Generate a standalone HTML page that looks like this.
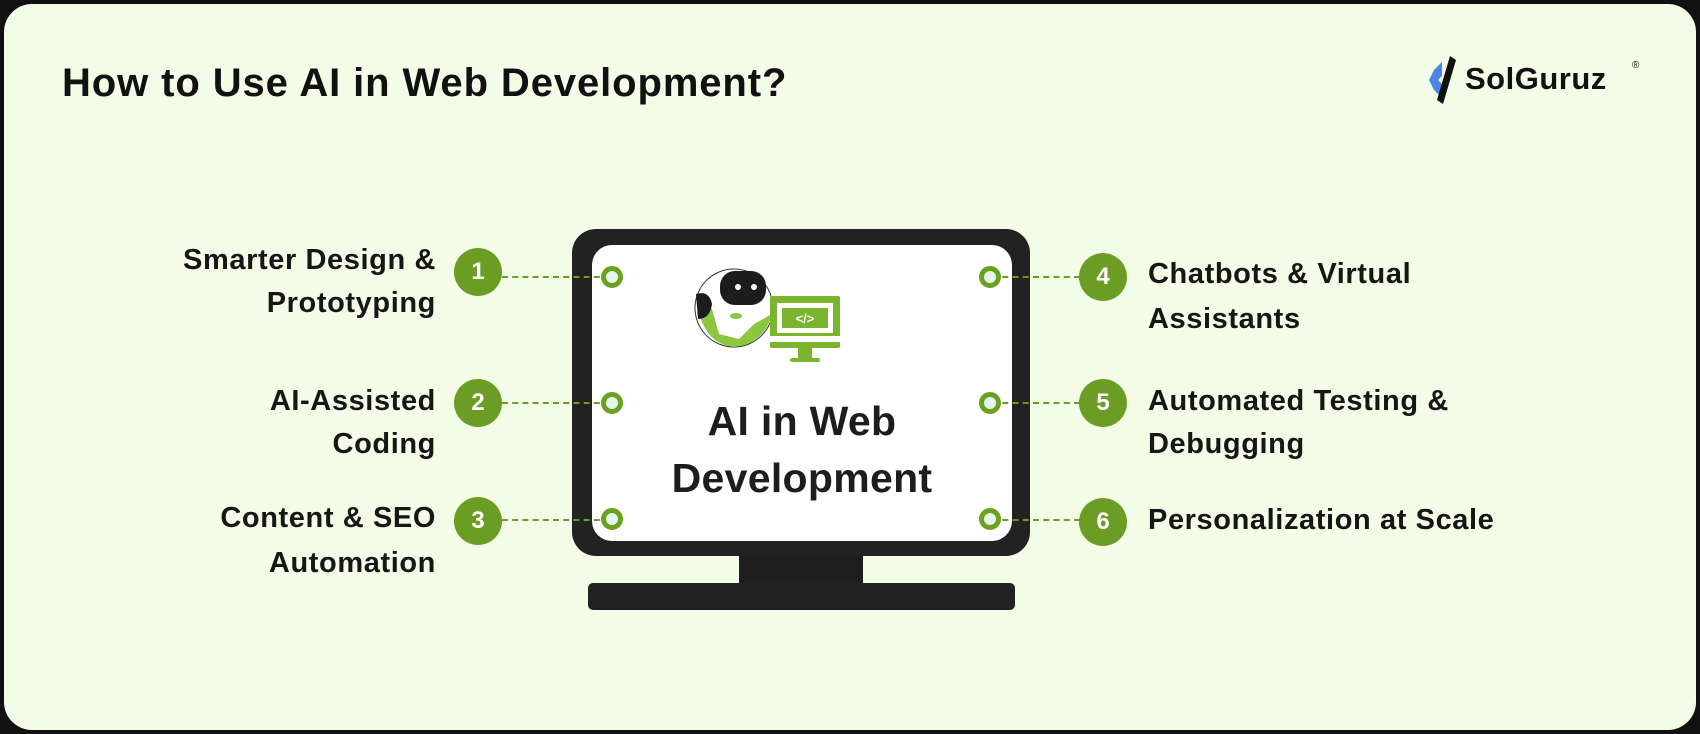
<!DOCTYPE html>
<html><head><meta charset="utf-8"><style>
*{margin:0;padding:0;box-sizing:border-box}
body{width:1700px;height:734px;background:#111;position:relative;overflow:hidden;font-family:"Liberation Sans",sans-serif}
.bg{position:absolute;left:4px;top:4px;width:1692px;height:726px;background:#f3fce6;border-radius:28px}
.t{position:absolute;font-size:29px;font-weight:700;color:#161616;line-height:30px;white-space:nowrap;letter-spacing:0.6px}
.l{text-align:right;right:1264px}
.r{left:1148px}
.n{position:absolute;width:48px;height:48px;border-radius:50%;background:#6b9d25;color:#fff;font-weight:700;font-size:24px;line-height:48px;text-align:center}
.d{position:absolute;height:0;border-top:2px dashed #6b9d25}
.ring{position:absolute;width:22px;height:22px;border-radius:50%;border:5px solid #6aa120;background:#e6f4ee}
</style></head><body>
<div class="bg"></div>
<div style="position:absolute;left:62px;top:61px;font-size:40px;font-weight:700;color:#111;letter-spacing:0.9px">How to Use AI in Web Development?</div>
<svg style="position:absolute;left:1426px;top:52px" width="42" height="56" viewBox="0 0 42 56">
<path d="M8 18 L16 10 L16 24 L12 28 L16 32 L16 46 L8 38 L3 28Z" fill="#4a86e8"/>
<path d="M24 4 L30 8 L17 52 L11 48Z" fill="#111"/>
</svg>
<div style="position:absolute;left:1465px;top:61px;font-size:31px;font-weight:700;color:#111;letter-spacing:0.5px">SolGuruz</div>
<div style="position:absolute;left:1632px;top:60px;font-size:10px;color:#111">®</div>

<div style="position:absolute;left:572px;top:229px;width:458px;height:327px;background:#222;border-radius:24px"></div>
<div style="position:absolute;left:592px;top:245px;width:420px;height:296px;background:#fff;border-radius:20px"></div>
<div style="position:absolute;left:739px;top:555px;width:124px;height:30px;background:#1e1e1e"></div>
<div style="position:absolute;left:588px;top:583px;width:427px;height:27px;background:#222;border-radius:5px"></div>
<div style="position:absolute;left:592px;top:393px;width:420px;text-align:center;font-size:41px;font-weight:700;color:#1d1d1d;line-height:57px;letter-spacing:0.3px">AI in Web<br>Development</div>
<svg style="position:absolute;left:694px;top:264px" width="150" height="122" viewBox="0 0 150 122">
<circle cx="40" cy="44" r="39" fill="#fff" stroke="#333" stroke-width="1"/>
<path d="M3 40 Q10 80 40 83 Q70 80 78 50 L60 60 L45 75 L25 70 L18 45Z" fill="#8dc63f"/>
<rect x="26" y="7" width="46" height="34" rx="15" fill="#1c1c1c"/>
<circle cx="44" cy="23" r="3" fill="#fff"/><circle cx="60" cy="23" r="3" fill="#fff"/>
<path d="M2 30 Q15 26 18 40 Q16 55 4 55Z" fill="#1c1c1c"/>
<ellipse cx="42" cy="52" rx="6" ry="3" fill="#8dc63f"/>
<rect x="76" y="32" width="70" height="52" rx="2" fill="#7bb52f"/>
<rect x="83" y="39" width="56" height="30" fill="#fff"/>
<rect x="88" y="44" width="46" height="20" fill="#7bb52f"/>
<text x="111" y="59" text-anchor="middle" font-size="13" font-weight="700" fill="#fff" font-family="Liberation Sans">&lt;/&gt;</text>
<rect x="76" y="72" width="70" height="6" fill="#fff"/>
<rect x="104" y="84" width="14" height="10" fill="#7bb52f"/>
<rect x="96" y="94" width="30" height="4" rx="2" fill="#7bb52f"/>
</svg>

<div class="d" style="left:502px;top:276px;width:108px"></div>
<div class="d" style="left:502px;top:402px;width:108px"></div>
<div class="d" style="left:502px;top:519px;width:108px"></div>
<div class="d" style="left:992px;top:276px;width:88px"></div>
<div class="d" style="left:992px;top:402px;width:88px"></div>
<div class="d" style="left:992px;top:519px;width:88px"></div>
<div class="ring" style="left:601px;top:266px"></div>
<div class="ring" style="left:601px;top:392px"></div>
<div class="ring" style="left:601px;top:508px"></div>
<div class="ring" style="left:979px;top:266px"></div>
<div class="ring" style="left:979px;top:392px"></div>
<div class="ring" style="left:979px;top:508px"></div>

<div class="n" style="left:454px;top:248px">1</div>
<div class="n" style="left:454px;top:379px">2</div>
<div class="n" style="left:454px;top:497px">3</div>
<div class="n" style="left:1079px;top:253px">4</div>
<div class="n" style="left:1079px;top:379px">5</div>
<div class="n" style="left:1079px;top:498px">6</div>

<div class="t l" style="top:245px">Smarter Design &amp;</div>
<div class="t l" style="top:288px">Prototyping</div>
<div class="t l" style="top:386px">AI-Assisted</div>
<div class="t l" style="top:429px">Coding</div>
<div class="t l" style="top:503px">Content &amp; SEO</div>
<div class="t l" style="top:548px">Automation</div>
<div class="t r" style="top:259px">Chatbots &amp; Virtual</div>
<div class="t r" style="top:304px">Assistants</div>
<div class="t r" style="top:386px">Automated Testing &amp;</div>
<div class="t r" style="top:429px">Debugging</div>
<div class="t r" style="top:505px">Personalization at Scale</div>
</body></html>
